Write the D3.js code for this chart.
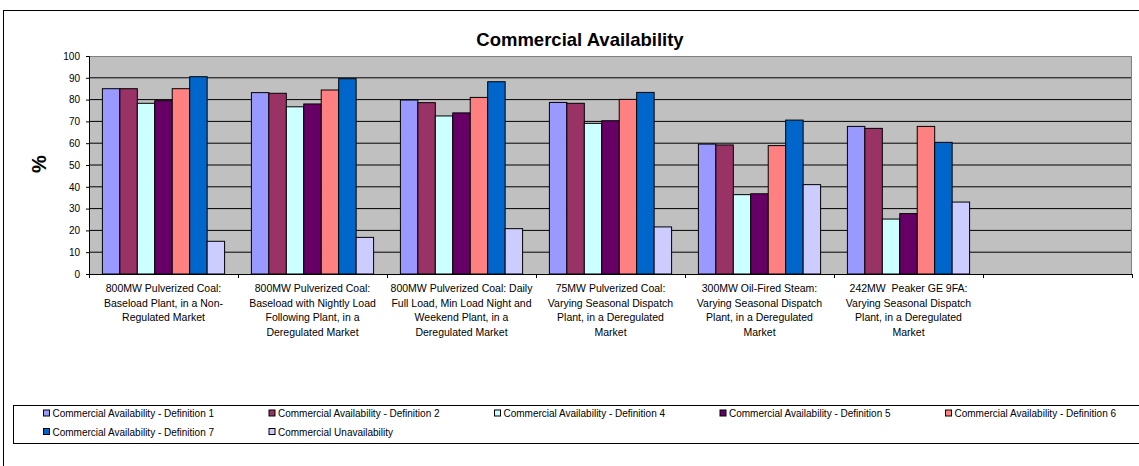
<!DOCTYPE html>
<html>
<head>
<meta charset="utf-8">
<script src="https://cdn.jsdelivr.net/npm/d3@7/dist/d3.min.js"></script>
<style>
  html, body { margin: 0; padding: 0; background: #fff; }
  svg { display: block; font-family: "Liberation Sans", Arial, sans-serif; }
</style>
</head>
<body>
<svg id="chart" width="1139" height="466"></svg>
<script>
// Plant scenarios (line breaks as laid out under each group); the last slot is an empty category
const categories = [
  "800MW Pulverized Coal:\nBaseload Plant, in a Non-\nRegulated Market",
  "800MW Pulverized Coal:\nBaseload with Nightly Load\nFollowing Plant, in a\nDeregulated Market",
  "800MW Pulverized Coal: Daily\nFull Load, Min Load Night and\nWeekend Plant, in a\nDeregulated Market",
  "75MW Pulverized Coal:\nVarying Seasonal Dispatch\nPlant, in a Deregulated\nMarket",
  "300MW Oil-Fired Steam:\nVarying Seasonal Dispatch\nPlant, in a Deregulated\nMarket",
  "242MW  Peaker GE 9FA:\nVarying Seasonal Dispatch\nPlant, in a Deregulated\nMarket",
  ""
];

const seriesNames = [
  "Commercial Availability - Definition 1",
  "Commercial Availability - Definition 2",
  "Commercial Availability - Definition 4",
  "Commercial Availability - Definition 5",
  "Commercial Availability - Definition 6",
  "Commercial Availability - Definition 7",
  "Commercial Unavailability"
];

const seriesColors = ["#9999FF", "#993366", "#CCFFFF", "#660066", "#FF8080", "#0066CC", "#CCCCFF"];

// Percent values per series, one per plant scenario
const def1 = [85.0, 83.2, 79.8, 78.7, 59.6, 67.7];
const def2 = [85.0, 82.9, 78.6, 78.3, 59.2, 66.8];
const def4 = [78.3, 76.7, 72.5, 69.1, 36.4, 25.2];
const def5 = [79.5, 78.0, 73.9, 70.3, 36.8, 27.7];
const def6 = [85.0, 84.4, 81.0, 80.1, 58.9, 67.7];
const def7 = [90.5, 89.6, 88.2, 83.3, 70.6, 60.4];
const unavailability = [15.0, 16.8, 20.8, 21.6, 41.0, 33.0];

const yTicks = [0, 10, 20, 30, 40, 50, 60, 70, 80, 90, 100];

const seriesValues = [def1, def2, def4, def5, def6, def7, unavailability];

const svg = d3.select("#chart");

// Outer chart frame
svg.append("rect")
  .attr("x", 3.5).attr("y", 10.5)
  .attr("width", 1300).attr("height", 600)
  .attr("fill", "#fff").attr("stroke", "#000").attr("stroke-width", 1);

const plot = { left: 89, right: 1132, top: 56, bottom: 274 };

const x = d3.scaleBand()
  .domain(d3.range(categories.length))
  .range([plot.left, plot.right])
  .paddingInner(0).paddingOuter(0);

const bw = x.bandwidth();
const xInner = d3.scaleBand()
  .domain(d3.range(seriesNames.length))
  .range([bw * 0.09, bw * 0.91])
  .paddingInner(0).paddingOuter(0);

const y = d3.scaleLinear().domain([0, 100]).range([plot.bottom, plot.top]);

// Plot background
svg.append("rect")
  .attr("x", plot.left).attr("y", plot.top)
  .attr("width", plot.right - plot.left).attr("height", plot.bottom - plot.top)
  .attr("fill", "#C0C0C0");

// Gridlines
svg.append("g").selectAll("line")
  .data(yTicks.filter(t => t > 0 && t < 100))
  .join("line")
  .attr("x1", plot.left).attr("x2", plot.right)
  .attr("y1", d => y(d)).attr("y2", d => y(d))
  .attr("stroke", "#000").attr("stroke-width", 1);

// Plot border (top and right)
svg.append("path")
  .attr("d", `M${plot.left},${plot.top + 0.5}H${plot.right - 0.5}V${plot.bottom}`)
  .attr("fill", "none").attr("stroke", "#808080").attr("stroke-width", 1);

// Bars
const groups = svg.append("g").selectAll("g")
  .data(seriesValues)
  .join("g")
  .attr("fill", (d, i) => seriesColors[i]);

groups.each(function(vals, si) {
  d3.select(this).selectAll("rect")
    .data(vals)
    .join("rect")
    .attr("x", (v, ci) => x(ci) + xInner(si))
    .attr("y", v => y(v))
    .attr("width", xInner.bandwidth())
    .attr("height", v => y(0) - y(v))
    .attr("stroke", "#000").attr("stroke-width", 1);
});

// Y axis
const yAxis = svg.append("g")
  .attr("transform", `translate(${plot.left},0)`)
  .call(d3.axisLeft(y).tickValues(yTicks).tickSize(3).tickPadding(6));
yAxis.select(".domain").attr("stroke", "#000");
yAxis.selectAll(".tick line").attr("stroke", "#000");
yAxis.selectAll("text")
  .attr("font-size", "10px")
  .attr("font-family", "'Liberation Sans', Arial, sans-serif")
  .attr("fill", "#000");

// X axis line and tick marks at category boundaries
svg.append("line")
  .attr("x1", plot.left).attr("x2", plot.right)
  .attr("y1", plot.bottom + 0.5).attr("y2", plot.bottom + 0.5)
  .attr("stroke", "#000");
svg.append("g").selectAll("line")
  .data(d3.range(categories.length + 1))
  .join("line")
  .attr("x1", i => Math.round(plot.left + i * bw) + 0.5)
  .attr("x2", i => Math.round(plot.left + i * bw) + 0.5)
  .attr("y1", plot.bottom).attr("y2", plot.bottom + 4)
  .attr("stroke", "#000");

// Category labels
svg.append("g").selectAll("text")
  .data(categories)
  .join("text")
  .attr("text-anchor", "middle")
  .attr("font-size", "10.5px")
  .attr("fill", "#000")
  .each(function(label, i) {
    const t = d3.select(this);
    label.split("\n").filter(s => s.length).forEach((line, li) => {
      t.append("tspan")
        .attr("x", x(i) + bw / 2)
        .attr("y", 292 + li * 14.5)
        .attr("xml:space", "preserve")
        .text(line);
    });
  });

// Title
svg.append("text")
  .attr("x", 580).attr("y", 46)
  .attr("text-anchor", "middle")
  .attr("font-size", "18.5px").attr("font-weight", "bold")
  .text("Commercial Availability");

// Y axis title
svg.append("text")
  .attr("transform", "translate(46,164) rotate(-90)")
  .attr("text-anchor", "middle")
  .attr("font-size", "20px").attr("font-weight", "bold")
  .text("%");

// Legend
svg.append("rect")
  .attr("x", 13.5).attr("y", 405.5)
  .attr("width", 1300).attr("height", 38)
  .attr("fill", "#fff").attr("stroke", "#000");

const legendCols = [43, 268.5, 494, 719.5, 945];
const legendRows = [413.5, 432];
const legend = svg.append("g").selectAll("g")
  .data(seriesNames)
  .join("g")
  .attr("transform", (d, i) => `translate(${legendCols[i % 5]},${legendRows[Math.floor(i / 5)]})`);
legend.append("rect")
  .attr("x", 0.5).attr("y", -3.5)
  .attr("width", 6).attr("height", 6)
  .attr("fill", (d, i) => seriesColors[i])
  .attr("stroke", "#000").attr("stroke-width", 1);
legend.append("text")
  .attr("x", 9.5).attr("y", 3.5)
  .attr("font-size", "10px")
  .attr("fill", "#000")
  .text(d => d);
</script>
</body>
</html>
